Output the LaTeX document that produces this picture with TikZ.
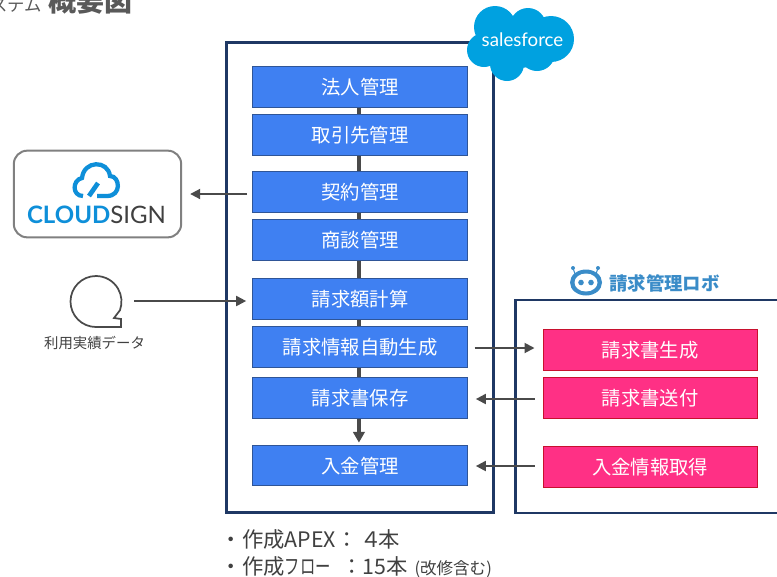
\documentclass[tikz,border=0pt]{standalone}
\usepackage{fontspec}
\usepackage{xcolor}
\setmainfont{Noto Sans CJK JP}
\newfontfamily\logofont{Lato}
\usepackage{tikz}
\usetikzlibrary{arrows.meta,positioning}
\definecolor{boxblue}{HTML}{3F80F2}
\definecolor{boxline}{HTML}{2F5597}
\definecolor{boxpink}{HTML}{FF3085}
\definecolor{pinkline}{HTML}{C8102E}
\definecolor{navy}{HTML}{1F3864}
\definecolor{arrowgray}{HTML}{4A4A4A}
\definecolor{textgray}{HTML}{404040}
\definecolor{titlegray}{HTML}{595959}
\definecolor{sfblue}{HTML}{00A1E0}
\definecolor{csblue}{HTML}{0E8FD9}
\definecolor{robotblue}{HTML}{3A8CC8}
\newcommand{\narrowkana}[1]{\scalebox{.72}[1]{#1}}
\tikzset{
  bluebox/.style={draw=boxline, fill=boxblue, text=white, line width=.75pt, minimum width=161pt, minimum height=30.5pt, inner sep=0pt, text height=13pt, text depth=1.5pt, font=\fontsize{14.5pt}{16pt}\selectfont},
  pinkbox/.style={draw=pinkline, fill=boxpink, text=white, line width=.75pt, minimum width=160.5pt, minimum height=31pt, inner sep=0pt, text height=13pt, text depth=1.5pt, font=\fontsize{14.5pt}{16pt}\selectfont},
  framebox/.style={draw=navy, line width=1.9pt, inner sep=0pt},
  flow/.style={draw=arrowgray, line width=2.6pt},
  link/.style={draw=arrowgray, line width=1.4pt, -{Triangle[length=7.5pt,width=7.5pt]}},
  note/.style={text=textgray, inner sep=0pt, anchor=base west, font=\fontsize{16pt}{18pt}\selectfont}
}
\begin{document}
\begin{tikzpicture}[x=.75pt, y=.75pt, node distance=36pt]
\path[use as bounding box, clip] (0,0) rectangle (777,-576);
% title
\node (T1) [note, text=titlegray, font=\fontsize{13pt}{15pt}\selectfont] at (-10,-11) {ステム};
\node (T2) [note, text=titlegray, font=\fontsize{21pt}{22pt}\selectfont\bfseries] at (48,-11) {概要図};
% frames
\node (M) [framebox, minimum width=200.5pt, minimum height=352.5pt] at (360,-277.5) {};
\node (R) [framebox, minimum width=220pt, minimum height=159.5pt] at (662,-406.5) {};
% salesforce
\fill[sfblue] (495,-27) circle (21) (528,-26) circle (18) (551,-39) circle (23) (484,-50) circle (17) (507,-64) circle (17) (537,-53) circle (18) (520,-42) circle (26);
\node (SF) [text=white, inner sep=0pt, font=\logofont\fontsize{14pt}{16pt}\selectfont] at (522.5,-40) {salesforce};
% stack
\node (A) [bluebox] at (360,-87) {法人管理};
\node (B) [bluebox, below of=A] {取引先管理};
\node (C) [bluebox, below of=B, node distance=42.75pt] {契約管理};
\node (D) [bluebox, below of=C] {商談管理};
\node (E) [bluebox, below of=D, node distance=44.25pt] {請求額計算};
\node (F) [bluebox, below of=E] {請求情報自動生成};
\node (G) [bluebox, below of=F, node distance=38.25pt] {請求書保存};
\node (H) [bluebox, below of=G, node distance=50.6pt] {入金管理};
\path ([xshift=-.8pt]A.south) edge[flow] ([xshift=-.8pt]B.north);
\path ([xshift=-.8pt]B.south) edge[flow] ([xshift=-.8pt]C.north);
\path ([xshift=-.8pt]C.south) edge[flow] ([xshift=-.8pt]D.north);
\path ([xshift=-.8pt]D.south) edge[flow] ([xshift=-.8pt]E.north);
\path ([xshift=-.8pt]E.south) edge[flow] ([xshift=-.8pt]F.north);
\path ([xshift=-.8pt]F.south) edge[flow] ([xshift=-.8pt]G.north);
\path ([xshift=-.8pt]G.south) edge[flow, shorten >=1.5pt, -{Triangle[length=8pt,width=8.5pt]}] ([xshift=-.8pt]H.north);
% robot
\node (P) [pinkbox] at (650,-350) {請求書生成};
\node (Q) [pinkbox, below of=P] {請求書送付};
\node (S) [pinkbox, below of=Q, node distance=51.75pt] {入金情報取得};
\fill[robotblue] (586,-282.5) ellipse (16 and 13);
\fill[white] (586,-282.5) ellipse (11.5 and 9);
\fill[robotblue] (581,-282.5) circle (2.8) (591,-282.5) circle (2.8) (573,-268) circle (2) (598,-268) circle (2);
\draw[robotblue, line width=.8pt] (573,-268) -- (575,-274) (598,-268) -- (596,-274);
\node (L) [text=robotblue, inner sep=0pt, anchor=west, font=\fontsize{13.8pt}{16pt}\selectfont\bfseries] at (609,-283) {請求管理ロボ};
% cloudsign
\node (K) [draw=gray, line width=1.5pt, rounded corners=10pt, fill=white, minimum width=125.5pt, minimum height=65pt] at (97.5,-194) {};
\draw[csblue, line width=3.2pt] (83,-196) .. controls (72,-196) and (72,-180) .. (82,-178) .. controls (84,-160) and (108,-160) .. (110,-176) .. controls (120,-176) and (122,-196) .. (107,-196) -- (97,-196);
\draw[csblue, line width=3.5pt] (89,-196) -- (98,-183);
\node (K1) [inner sep=0pt, font=\logofont\fontsize{18pt}{20pt}\selectfont] at (96.5,-215) {\textcolor{csblue}{\bfseries CLOUD}\textcolor{textgray}{SIGN}};
% data
\node (U) [circle, minimum size=38pt, inner sep=0pt] at (96,-301) {};
\draw[arrowgray, line width=1.3pt] (96,-327) arc[start angle=270, end angle=-20, radius=25.5] -- (114,-318) -- (121,-319) -- (121,-327) -- cycle;
\node (V) [text=textgray, inner sep=0pt, font=\fontsize{10.8pt}{12pt}\selectfont] at (94.5,-343) {利用実績データ};
% links
\path ([xshift=-13pt]C.west |- K.east) edge[link, shorten <=-9.25pt, shorten >=6pt] (K.east);
\coordinate (U1) at ([xshift=9.5pt]U.east);
\path (U1) edge[link, shorten >=4.5pt] (E.west |- U1);
\path (F.east |- 0,-348) edge[link, shorten <=5pt, shorten >=6pt] (P.west |- 0,-348);
\path (Q.west |- 0,-399) edge[link, shorten <=6pt, shorten >=6pt] (G.east |- 0,-399);
\path (S.west |- 0,-466) edge[link, shorten <=6pt, shorten >=6pt] (H.east |- 0,-466);
% notes
\node (N1) [note] at (220.5,-547) {・作成APEX：\hspace{2.2pt}４\hspace{-2pt}本};
\node (N2) [note] at (220.5,-574) {・作成\narrowkana{フロー}\hspace{8pt}：15本\hspace{5pt}{\fontsize{12.4pt}{13pt}\selectfont (改修含む)}};
\end{tikzpicture}
\end{document}
